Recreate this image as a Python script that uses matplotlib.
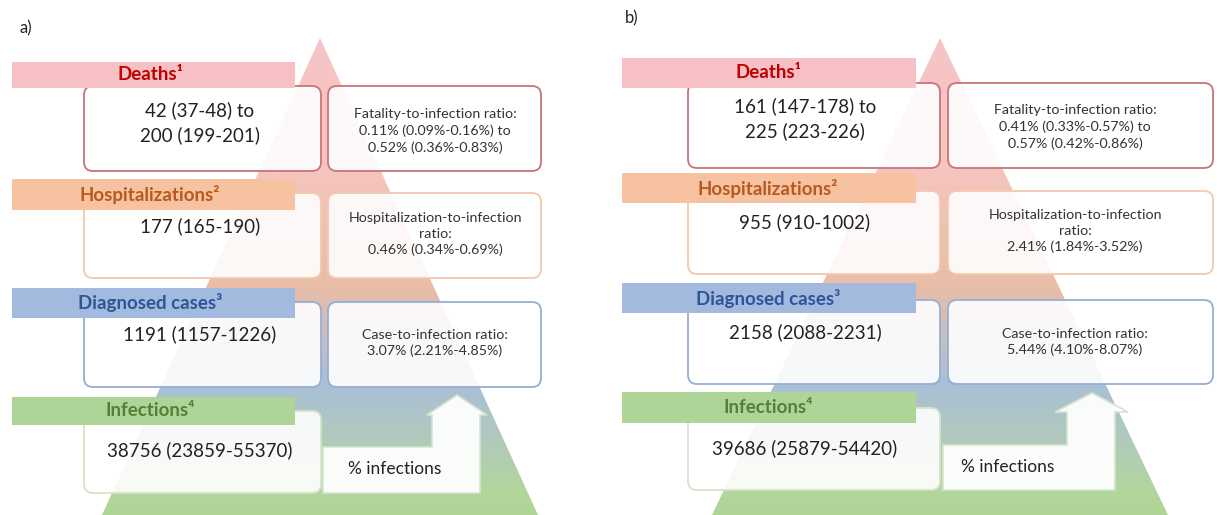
import numpy as np
import matplotlib.pyplot as plt
from matplotlib.patches import Polygon, FancyBboxPatch, Rectangle
from matplotlib.colors import LinearSegmentedColormap

plt.rcParams['font.family'] = ['Lato', 'DejaVu Sans']

# pyramid levels (top to bottom)
levels = ["Deaths¹", "Hospitalizations²", "Diagnosed cases³", "Infections⁴"]

counts_a = ["42 (37-48) to\n200 (199-201)", "177 (165-190)",
            "1191 (1157-1226)", "38756 (23859-55370)"]
ratios_a = ["Fatality-to-infection ratio:\n0.11% (0.09%-0.16%) to\n0.52% (0.36%-0.83%)",
            "Hospitalization-to-infection\nratio:\n0.46% (0.34%-0.69%)",
            "Case-to-infection ratio:\n3.07% (2.21%-4.85%)"]

counts_b = ["161 (147-178) to\n225 (223-226)", "955 (910-1002)",
            "2158 (2088-2231)", "39686 (25879-54420)"]
ratios_b = ["Fatality-to-infection ratio:\n0.41% (0.33%-0.57%) to\n0.57% (0.42%-0.86%)",
            "Hospitalization-to-infection\nratio:\n2.41% (1.84%-3.52%)",
            "Case-to-infection ratio:\n5.44% (4.10%-8.07%)"]

band_col = ["#f6c0c4", "#f6c2a0", "#a3badf", "#afd498"]
text_col = ["#c00000", "#b85a1f", "#2f5597", "#548235"]
edge_col = ["#c9737c", "#f3c9ad", "#97aed4", "#d3e5c7"]

grad = LinearSegmentedColormap.from_list("pyr", [
    (0.0, "#f6c4c6"), (0.30, "#f4c4bd"), (0.52, "#e9bda7"),
    (0.72, "#a9bfd8"), (0.84, "#b1c9bd"), (0.95, "#b3d69c"), (1.0, "#afd496")])

# layout of each panel, in pixel units of the 1217x515 picture
panel_a = dict(tag="a)", tag_xy=(20, 28), apex=(320, 38), base=(102, 538),
               band_x=(12, 295), lab_x=150,
               band_y=[(62, 88), (179, 210), (288, 318), (397, 425)],
               left_x=(84, 321), right_x=(328, 541), cnt_x=200, rat_x=435,
               box_y=[(86, 171), (193, 278), (302, 387), (411, 493)],
               cnt_y=[123, 226, 334, 450], rat_y=[131, 234, 343],
               arrow=dict(x0=323, top=447, s0=432, s1=480, hb=415, hl=427, hr=487,
                          tip=(457, 395), bot=493, tx=395, ty=469),
               counts=counts_a, ratios=ratios_a)
panel_b = dict(tag="b)", tag_xy=(625, 18), apex=(940, 38), base=(712, 1168),
               band_x=(622, 916), lab_x=768,
               band_y=[(58, 88), (173, 203), (283, 313), (392, 423)],
               left_x=(688, 940), right_x=(948, 1213), cnt_x=805, rat_x=1075,
               box_y=[(83, 168), (191, 274), (300, 384), (408, 490)],
               cnt_y=[119, 222, 332, 448], rat_y=[127, 231, 342],
               arrow=dict(x0=943, top=445, s0=1067, s1=1115, hb=412, hl=1055, hr=1128,
                          tip=(1092, 393), bot=490, tx=1008, ty=467),
               counts=counts_b, ratios=ratios_b)

fig = plt.figure(figsize=(12.17, 5.15), dpi=100)
ax = fig.add_axes([0, 0, 1, 1])
ax.set_xlim(0, 1217)
ax.set_ylim(515, 0)
ax.axis("off")


def rbox(x0, x1, y0, y1, ec, alpha=0.9):
    p = FancyBboxPatch((x0, y0), x1 - x0, y1 - y0,
                       boxstyle="round,pad=0,rounding_size=9",
                       fc=(1, 1, 1, alpha), ec=ec, lw=1.3, zorder=4)
    ax.add_patch(p)


def draw_panel(p):
    ax.text(*p["tag_xy"], p["tag"], fontsize=12, ha="left", va="center", color="#222222")

    # gradient pyramid
    apx, apy = p["apex"]
    ext = (p["base"][1] - apx) / (515 - apy) * 10
    tri = Polygon([(apx, apy), (p["base"][0] - ext, 525), (p["base"][1] + ext, 525)],
                  closed=True, fc="none", ec="none")
    ax.add_patch(tri)
    g = np.linspace(0, 1, 256).reshape(-1, 1)
    im = ax.imshow(g, cmap=grad, aspect="auto", zorder=1,
                   extent=(p["base"][0] - 20, p["base"][1] + 20, 515, apy))
    im.set_clip_path(tri)

    # count boxes
    for i, txt in enumerate(p["counts"]):
        y0, y1 = p["box_y"][i]
        rbox(p["left_x"][0], p["left_x"][1], y0, y1, edge_col[i])
        ax.text(p["cnt_x"], p["cnt_y"][i], txt, fontsize=13.5, color="#222222",
                ha="center", va="center", linespacing=1.45, zorder=5)

    # ratio boxes
    for i, txt in enumerate(p["ratios"]):
        y0, y1 = p["box_y"][i]
        rbox(p["right_x"][0], p["right_x"][1], y0, y1, edge_col[i])
        ax.text(p["rat_x"], p["rat_y"][i], txt, fontsize=10.3, color="#333333",
                ha="center", va="center", linespacing=1.4, zorder=5)

    # level bands and labels (drawn over the count boxes)
    for i, lab in enumerate(levels):
        y0, y1 = p["band_y"][i]
        ax.add_patch(Rectangle((p["band_x"][0], y0), p["band_x"][1] - p["band_x"][0],
                               y1 - y0, fc=band_col[i], ec="none", zorder=6))
        ax.text(p["lab_x"], (y0 + y1) / 2, lab,
                fontsize=13.5, fontweight="bold", color=text_col[i],
                ha="center", va="center", zorder=7)

    # bent-up arrow with "% infections"
    a = p["arrow"]
    pts = [(a["x0"], a["top"]), (a["s0"], a["top"]), (a["s0"], a["hb"]),
           (a["hl"], a["hb"]), a["tip"], (a["hr"], a["hb"]), (a["s1"], a["hb"]),
           (a["s1"], a["bot"]), (a["x0"], a["bot"])]
    ax.add_patch(Polygon(pts, closed=True, fc=(1, 1, 1, 0.95), ec="#d6e4cc", lw=1.2,
                         zorder=4))
    ax.text(a["tx"], a["ty"], "% infections", fontsize=12.5, color="#222222",
            ha="center", va="center", zorder=5)


draw_panel(panel_a)
draw_panel(panel_b)

fig.savefig("out.png", dpi=100)
